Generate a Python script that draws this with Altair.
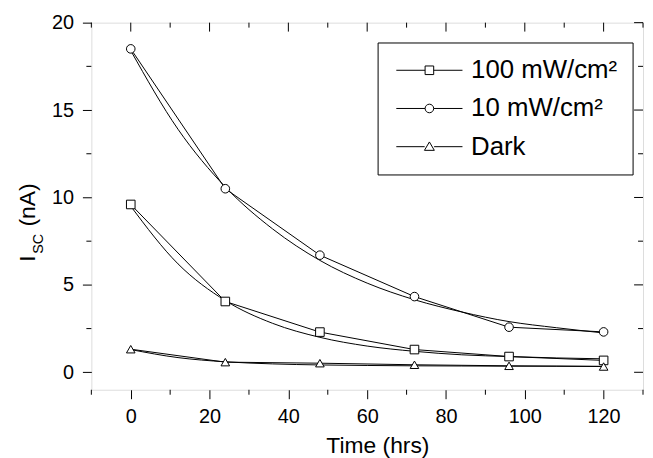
import altair as alt
import pandas as pd

# ---- data ----
times = [0, 24, 48, 72, 96, 120]
i_100 = [9.6, 4.05, 2.3, 1.3, 0.9, 0.68]
i_10 = [18.5, 10.5, 6.7, 4.33, 2.58, 2.31]
i_dark = [1.32, 0.58, 0.52, 0.43, 0.37, 0.33]

fit_times = [0, 12, 24, 36, 48, 60, 72, 84, 96, 108, 120]
fit_100 = [9.5, 6.2, 4.1, 2.8, 2.0, 1.5, 1.2, 1.0, 0.9, 0.82, 0.77]
fit_10 = [18.4, 13.9, 10.6, 8.2, 6.4, 5.1, 4.15, 3.45, 2.9, 2.55, 2.25]
fit_dark = [1.3, 0.84, 0.6, 0.48, 0.42, 0.39, 0.37, 0.36, 0.35, 0.35, 0.34]

series = ["100 mW/cm²", "10 mW/cm²", "Dark"]
x_major = [0, 20, 40, 60, 80, 100, 120]
x_minor = [-10, 10, 30, 50, 70, 90, 110, 130]
y_major = [0, 5, 10, 15, 20]
y_minor = [2.5, 7.5, 12.5, 17.5]
ytitle_parts = ["I", "SC", "(nA)"]

FONT = "Liberation Sans"
W, H = 556, 370

rows = []
for name, vals in zip(series, [i_100, i_10, i_dark]):
    for t, v in zip(times, vals):
        rows.append({"series": name, "time": t, "current": v})
df = pd.DataFrame(rows)

frows = []
for name, vals in zip(series, [fit_100, fit_10, fit_dark]):
    for t, v in zip(fit_times, vals):
        frows.append({"series": name, "time": t, "current": v})
dff = pd.DataFrame(frows)

xscale = alt.Scale(domain=[-10, 130], nice=False, zero=False)
yscale = alt.Scale(domain=[-1, 20], nice=False, zero=False)
xaxis = alt.Axis(values=x_major, title="Time (hrs)", tickSize=9, labelPadding=8,
                 grid=False, domain=False, labelFontSize=20, titleFontSize=23,
                 labelFont=FONT, titleFont=FONT,
                 titleFontWeight="normal", titleX=288.3, titleY=63.5,
                 titleBaseline="alphabetic", titleAlign="center",
                 tickColor="black", labelColor="black", titleColor="black")
yaxis = alt.Axis(values=y_major, title=None, tickSize=9, labelPadding=9,
                 grid=False, domain=False, labelFontSize=20, labelFont=FONT,
                 tickColor="black", labelColor="black")

X = lambda: alt.X("time:Q", scale=xscale, axis=xaxis)
Y = lambda: alt.Y("current:Q", scale=yscale, axis=yaxis)

fit_lines = alt.Chart(dff).mark_line(color="black", strokeWidth=1, interpolate="monotone").encode(
    x=X(), y=Y(), detail="series:N")
data_lines = alt.Chart(df).mark_line(color="black", strokeWidth=1).encode(
    x=X(), y=Y(), detail="series:N")
points = alt.Chart(df).mark_point(filled=True, fill="white", stroke="black", strokeWidth=1,
                                  size=75, opacity=1).encode(
    x=X(), y=Y(),
    shape=alt.Shape("series:N", scale=alt.Scale(domain=series, range=["square", "circle", "triangle-up"]),
                    legend=None))

leg_paths = [
    "M-7.7,0H-1M1,0H7.7M-1,-1H1V1H-1Z",
    "M-7.7,0H-1M1,0H7.7M-1,0A1,1,0,1,0,1,0A1,1,0,1,0,-1,0Z",
    "M-7.7,0H-1.1M1.1,0H7.7M0,-1.1L1.15,0.85H-1.15Z",
]
legend_layer = alt.Chart(df).mark_point(opacity=0).encode(
    x=X(), y=Y(),
    shape=alt.Shape("series:N", scale=alt.Scale(domain=series, range=leg_paths),
                    legend=alt.Legend(title=None, orient="none", legendX=288.5, legendY=20,
                                      strokeColor="black", fillColor="white", padding=15,
                                      symbolSize=75, symbolOffset=24.2, labelOffset=29,
                                      labelFontSize=26, labelFont=FONT, labelColor="black",
                                      symbolStrokeColor="black", symbolFillColor="white",
                                      symbolStrokeWidth=1, symbolOpacity=1, rowPadding=12.5)))

tx_major = pd.DataFrame({"time": x_major})
tx_minor = pd.DataFrame({"time": x_minor})
ty_major = pd.DataFrame({"current": y_major})
ty_minor = pd.DataFrame({"current": y_minor})

def xrule(d, y1, y2):
    return alt.Chart(d).mark_rule(color="black", strokeWidth=1).encode(
        x=X(), y=alt.value(y1), y2=alt.value(y2))

def yrule(d, x1, x2):
    return alt.Chart(d).mark_rule(color="black", strokeWidth=1).encode(
        y=Y(), x=alt.value(x1), x2=alt.value(x2))

ticks = [
    xrule(tx_minor, H, H + 5),
    xrule(tx_major, 0, 9),
    xrule(tx_minor, 0, 5),
    yrule(ty_minor, -5, 0),
    yrule(ty_major, W, W - 9),
    yrule(ty_minor, W, W - 5),
]

def ytext(part, size, xv, yv):
    return alt.Chart(pd.DataFrame({"label": [part]})).mark_text(
        fontSize=size, angle=270, align="left", baseline="alphabetic", font=FONT, color="black"
    ).encode(text="label:N", x=alt.value(xv), y=alt.value(yv))

ytitle = [
    ytext(ytitle_parts[0], 23, -56.5, 241),
    ytext(ytitle_parts[1], 14.5, -49, 233),
    ytext(ytitle_parts[2], 23, -56.5, 205.5),
]

chart = alt.layer(fit_lines, data_lines, *ticks, points, legend_layer, *ytitle).resolve_scale(
    shape="independent"
).properties(
    width=W, height=H,
    autosize=alt.AutoSizeParams(type="none"),
    padding={"left": 84, "top": 13, "right": 2, "bottom": 67},
).configure_view(stroke="black", strokeWidth=1).configure(font=FONT)

chart.save("out.html", embed_options={"renderer": "svg", "actions": False})
